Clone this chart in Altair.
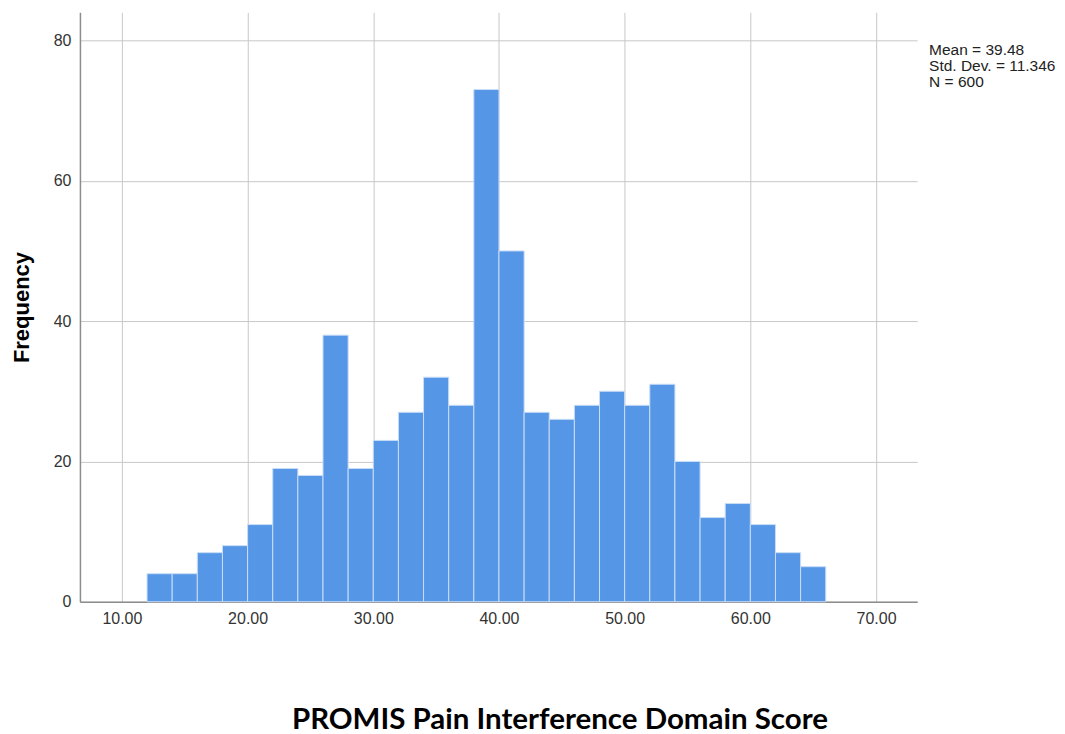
import altair as alt
import pandas as pd

bin_start = [12, 14, 16, 18, 20, 22, 24, 26, 28, 30, 32, 34, 36, 38, 40, 42, 44, 46, 48, 50, 52, 54, 56, 58, 60, 62, 64]
counts = [4, 4, 7, 8, 11, 19, 18, 38, 19, 23, 27, 32, 28, 73, 50, 27, 26, 28, 30, 28, 31, 20, 12, 14, 11, 7, 5]
bin_width = 2
stats_lines = ["Mean = 39.48", "Std. Dev. = 11.346", "N = 600"]
x_ticks = [10, 20, 30, 40, 50, 60, 70]
y_ticks = [0, 20, 40, 60, 80]

df = pd.DataFrame({
    "start": bin_start,
    "end": [s + bin_width for s in bin_start],
    "count": counts,
})

x_scale = alt.Scale(domain=[6.66, 73.27], nice=False, zero=False)
y_scale = alt.Scale(domain=[0, 84], nice=False)

bars = alt.Chart(df).mark_rect(
    color="#5596E6", stroke="#C9DDF6", strokeWidth=1
).encode(
    x=alt.X("start:Q", scale=x_scale,
            axis=alt.Axis(values=x_ticks, format=".2f", grid=True, gridColor="#C8C8C8",
                          gridWidth=1, ticks=False, labelPadding=9, labelFontSize=16,
                          labelColor="#333333", labelFont="Liberation Sans",
                          domainColor="#8C8C8C", domainWidth=1.5,
                          title="PROMIS Pain Interference Domain Score",
                          titleFont="Lato", titleFontSize=29.5, titleFontWeight="bold",
                          titleColor="#000000", titleX=480, titleY=118,
                          titleAlign="center", titleBaseline="middle")),
    x2="end:Q",
    y=alt.Y("count:Q", scale=y_scale,
            axis=alt.Axis(values=y_ticks, grid=True, gridColor="#C8C8C8", gridWidth=1,
                          ticks=False, labelPadding=9, labelFontSize=16,
                          labelColor="#333333", labelFont="Liberation Sans",
                          domainColor="#8C8C8C", domainWidth=1.5,
                          title="Frequency", titleFont="Liberation Sans",
                          titleFontSize=22, titleFontWeight="bold", titleColor="#000000",
                          titleX=-58, titleY=295, titleAngle=270,
                          titleAlign="center", titleBaseline="middle")),
    y2=alt.datum(0),
)

stats_df = pd.DataFrame({"txt": ["\n".join(stats_lines)]})
stats = alt.Chart(stats_df).mark_text(
    align="left", baseline="top", fontSize=15.5, font="Liberation Sans", color="#222222",
    lineBreak="\n", lineHeight=16
).encode(
    x=alt.value(850),
    y=alt.value(31),
    text="txt:N",
)

chart = alt.layer(bars, stats).properties(
    width=838, height=590,
    autosize=alt.AutoSizeParams(type="none"),
    padding={"left": 72, "top": 4, "right": 140, "bottom": 135},
).configure_view(stroke=None)

chart.save("out.html", embed_options={"renderer": "svg", "actions": False})
